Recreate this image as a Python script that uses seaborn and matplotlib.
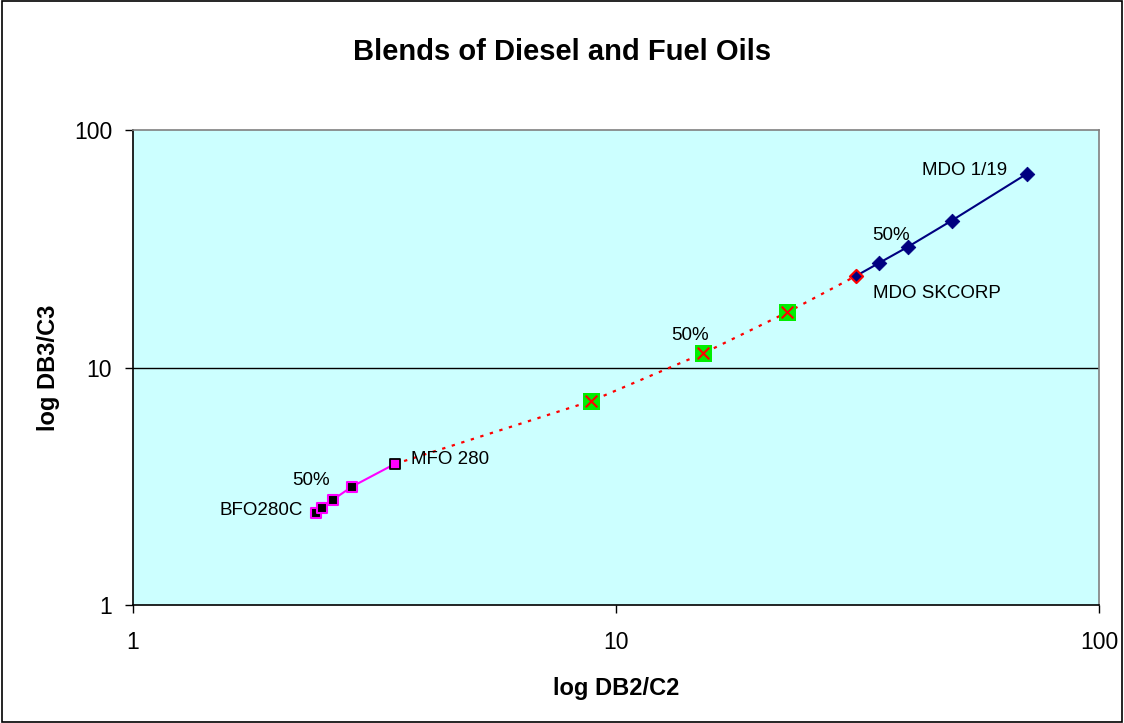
import matplotlib
matplotlib.use("Agg")
import matplotlib.pyplot as plt
import seaborn as sns
import pandas as pd
from matplotlib.ticker import FixedLocator, NullLocator, FixedFormatter

sns.set_theme(style="white")
plt.rcParams['font.family'] = ['Liberation Sans', 'DejaVu Sans']
plt.rcParams['text.color'] = 'black'
plt.rcParams['xtick.color'] = 'black'
plt.rcParams['ytick.color'] = 'black'
plt.rcParams['axes.labelcolor'] = 'black'

# Data
bfo_x = [2.39, 2.46, 2.59, 2.84, 3.48]
bfo_y = [2.44, 2.57, 2.77, 3.15, 3.92]
blend_x = [3.48, 8.88, 15.17, 22.63, 31.4]
blend_y = [3.92, 7.22, 11.48, 17.08, 24.3]
mdo_x = [31.4, 35.1, 40.3, 49.5, 70.8]
mdo_y = [24.3, 27.6, 32.3, 41.5, 65.3]
tick_vals = [1, 10, 100]
tick_labels = ["1", "10", "100"]

bfo = pd.DataFrame({"x": bfo_x, "y": bfo_y})
blend = pd.DataFrame({"x": blend_x, "y": blend_y})
mdo = pd.DataFrame({"x": mdo_x, "y": mdo_y})

fig = plt.figure(figsize=(11.24, 7.23), dpi=100)
fig.patch.set_facecolor("white")
ax = fig.add_axes([0.1183, 0.1632, 0.8595, 0.657])
ax.set_facecolor("#CCFFFF")
ax.set_xscale("log")
ax.set_yscale("log")

# Horizontal gridline at 10
ax.axhline(10, color="black", lw=1, zorder=1)

# Red dotted blend line
sns.lineplot(data=blend, x="x", y="y", ax=ax, color="red", lw=1.6,
             linestyle=(0, (1.5, 3)), sort=False, zorder=2)
# Green markers with red x
mid = blend.iloc[1:4]
sns.scatterplot(data=mid, x="x", y="y", ax=ax, marker="s", s=150,
                color="#00EE00", edgecolor="none", zorder=3)
sns.scatterplot(data=mid, x="x", y="y", ax=ax, marker="x", s=70,
                color="red", linewidth=1.5, zorder=4)

# Pink BFO line
sns.lineplot(data=bfo, x="x", y="y", ax=ax, color="#FF00FF", lw=1.5, sort=False, zorder=2)
sns.scatterplot(data=bfo.iloc[:4], x="x", y="y", ax=ax, marker="s", s=42,
                color="black", edgecolor="#FF00FF", linewidth=1.5, zorder=5)
sns.scatterplot(data=bfo.iloc[4:], x="x", y="y", ax=ax, marker="s", s=60,
                color="#FF00FF", edgecolor="black", linewidth=1.3, zorder=5)

# Navy MDO line
sns.lineplot(data=mdo, x="x", y="y", ax=ax, color="#000080", lw=1.5, sort=False, zorder=2)
sns.scatterplot(data=mdo.iloc[1:], x="x", y="y", ax=ax, marker="D", s=55,
                color="#000080", edgecolor="#000080", zorder=5)
sns.scatterplot(data=mdo.iloc[:1], x="x", y="y", ax=ax, marker="D", s=45,
                color="#000080", edgecolor="red", linewidth=1.5, zorder=6)

ax.set_xlim(1, 100)
ax.set_ylim(1, 100)
for axis in (ax.xaxis, ax.yaxis):
    axis.set_major_locator(FixedLocator(tick_vals))
    axis.set_major_formatter(FixedFormatter(tick_labels))
    axis.set_minor_locator(NullLocator())
ax.tick_params(axis="both", which="major", direction="out", length=6, width=1,
               color="black", labelsize=16.5, bottom=True, left=True)
ax.tick_params(axis="x", pad=13)
ax.tick_params(axis="y", pad=9)

ax.spines["left"].set_color("black")
ax.spines["bottom"].set_color("black")
ax.spines["top"].set_color("#808080")
ax.spines["right"].set_color("#808080")
for s in ax.spines.values():
    s.set_linewidth(1.2)

ax.set_xlabel("log DB2/C2", fontsize=17, fontweight="bold")
ax.set_ylabel("log DB3/C3", fontsize=17, fontweight="bold")
ax.xaxis.set_label_coords(0.5, -0.152)
ax.yaxis.set_label_coords(-0.0758, 0.5)
fig.text(0.5, 0.928, "Blends of Diesel and Fuel Oils", ha="center", va="center",
         fontsize=21, fontweight="bold")

# Annotations
lab = dict(fontsize=13.5, color="black", zorder=7, va="baseline")
ax.text(64.5, 64.6, "MDO 1/19", ha="right", **lab)
ax.text(33.9, 34.4, "50%", ha="left", **lab)
ax.text(34.0, 19.6, "MDO SKCORP", ha="left", **lab)
ax.text(13.0, 13.05, "50%", ha="left", **lab)
ax.text(3.77, 3.92, "MFO 280", ha="left", **lab)
ax.text(2.14, 3.20, "50%", ha="left", **lab)
ax.text(2.25, 2.39, "BFO280C", ha="right", **lab)

ax.legend_ = None
border = plt.Rectangle((0.0015, 0.002), 0.997, 0.996, transform=fig.transFigure,
                       fill=False, edgecolor="black", lw=1.2)
fig.patches.append(border)

fig.savefig("out.png", dpi=100)
